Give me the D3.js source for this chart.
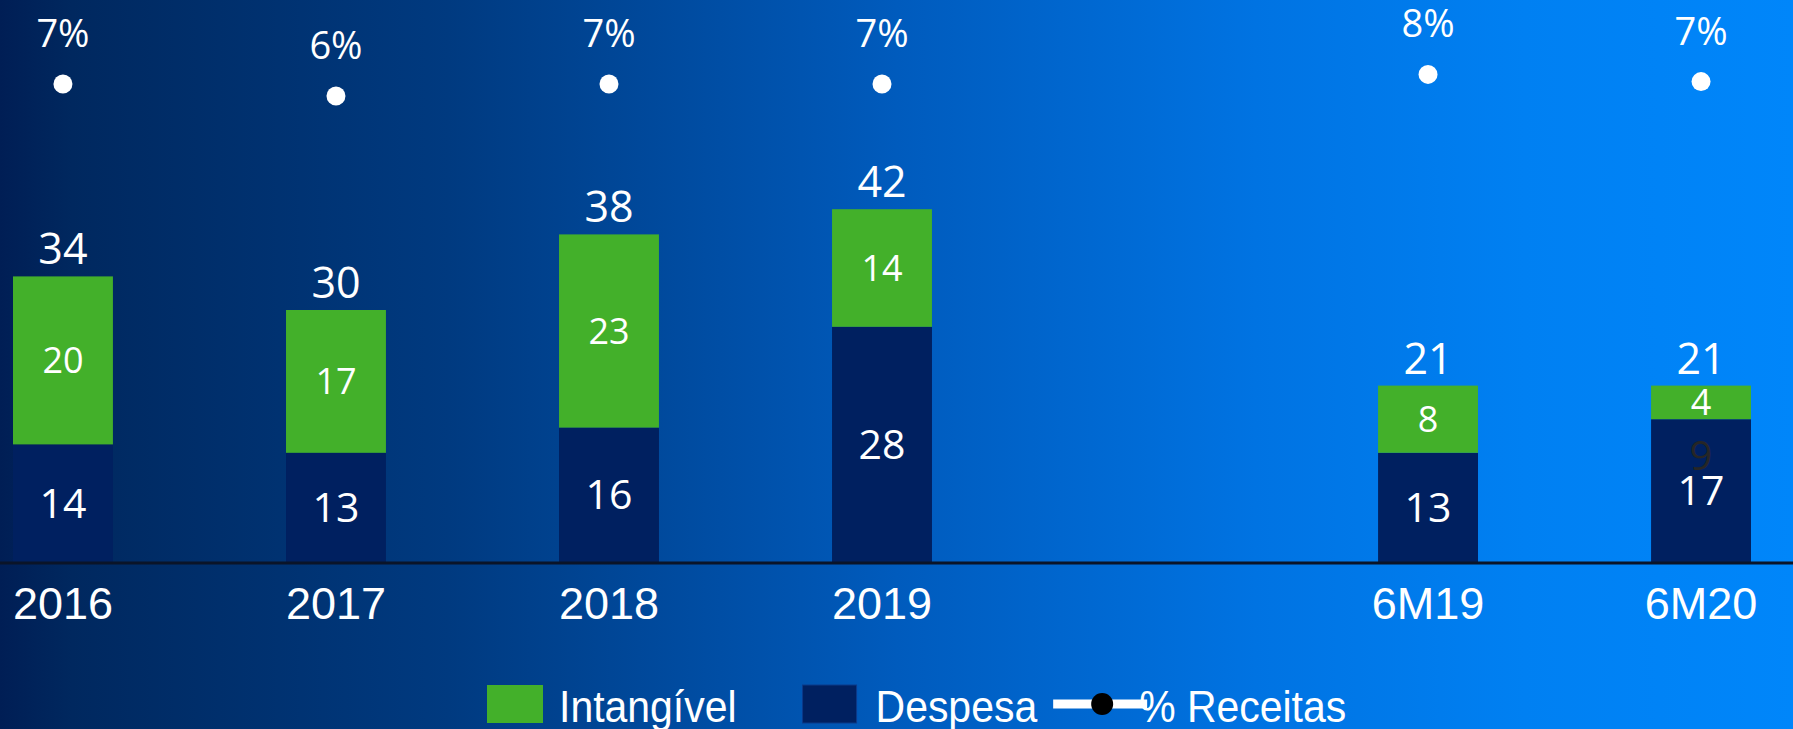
<!DOCTYPE html>
<html>
<head>
<meta charset="utf-8">
<script src="https://cdn.jsdelivr.net/npm/d3@7"></script>
<style>
html, body { margin: 0; padding: 0; overflow: hidden; background: #002058; }
</style>
</head>
<body>
<div class="chart"></div>
<script>
// data
var categories = ["2016", "2017", "2018", "2019", "6M19", "6M20"];
var despesa = [14, 13, 16, 28, 13, 17];
var intangivel = [20, 17, 23, 14, 8, 4];
var totais = [34, 30, 38, 42, 21, 21];
var pctReceitas = [0.070, 0.060, 0.070, 0.070, 0.078, 0.072];
// stray dark label sitting inside the 6M20 bar
var rotuloExtra = {categoria: "6M20", texto: "9", nivel: 12.6};

var svgWidth = 1793;
var svgHeight = 729;

// empty slot between the years and the half-years
var slots = categories.slice(0, 4).concat(["_gap"], categories.slice(4));

var table = categories.map(function(c, i) {
    return {cat: c, despesa: despesa[i], intangivel: intangivel[i], total: totais[i], pct: pctReceitas[i]};
});

var svg = d3.select(".chart")
    .append("svg")
    .attr("width", svgWidth)
    .attr("height", svgHeight);

// background gradient
var grad = svg.append("defs").append("linearGradient")
    .attr("id", "bg")
    .attr("x1", "0%").attr("x2", "100%").attr("y1", "0%").attr("y2", "0%");
[["0%", "#001e55"], ["4%", "#00285f"], ["25%", "#003a80"], ["50%", "#005bbd"],
 ["70%", "#0073e2"], ["85%", "#0080f2"], ["100%", "#0086fa"]].forEach(function(s) {
    grad.append("stop").attr("offset", s[0]).attr("stop-color", s[1]);
});
svg.append("rect").attr("width", svgWidth).attr("height", svgHeight).attr("fill", "url(#bg)");

var x = d3.scaleBand().domain(slots).range([13, 1751]).paddingInner(0.634).paddingOuter(0);
var y = d3.scaleLinear().domain([0, 50]).range([562, 142]);
var y2 = d3.scaleLinear().domain([0.06, 0.08]).range([96, 72]);

var colors = {despesa: "#002060", intangivel: "#43b02a"};
var valueFont = "'Open Sans', 'Noto Sans', sans-serif";

// stacked bars
var series = d3.stack().keys(["despesa", "intangivel"])(table);

var layers = svg.selectAll(".layer")
    .data(series)
    .enter().append("g")
    .attr("class", "layer")
    .attr("fill", function(d) { return colors[d.key]; });

layers.selectAll("rect")
    .data(function(d) { return d; })
    .enter().append("rect")
    .attr("x", function(d) { return x(d.data.cat); })
    .attr("y", function(d) { return y(d[1]); })
    .attr("width", x.bandwidth())
    .attr("height", function(d) { return y(d[0]) - y(d[1]); });

// segment labels
var segSize = {despesa: 41, intangivel: 36};
layers.each(function(s) {
    d3.select(this).selectAll("text")
        .data(s)
        .enter().append("text")
        .attr("x", function(d) { return x(d.data.cat) + x.bandwidth() / 2; })
        .attr("y", function(d) { return (y(d[0]) + y(d[1])) / 2 + segSize[s.key] * 0.357; })
        .attr("text-anchor", "middle")
        .attr("fill", "#ffffff")
        .style("font-family", valueFont)
        .style("font-size", segSize[s.key] + "px")
        .text(function(d) { return d.data[s.key]; });
});

// stray label
svg.append("text")
    .attr("x", x(rotuloExtra.categoria) + x.bandwidth() / 2)
    .attr("y", y(rotuloExtra.nivel) + 40 * 0.357)
    .attr("text-anchor", "middle")
    .attr("fill", "#262626")
    .style("font-family", valueFont)
    .style("font-size", "40px")
    .text(rotuloExtra.texto);

// totals above bars
svg.selectAll(".total")
    .data(table)
    .enter().append("text")
    .attr("class", "total")
    .attr("x", function(d) { return x(d.cat) + x.bandwidth() / 2; })
    .attr("y", function(d) { return y(d.despesa + d.intangivel) - 12; })
    .attr("text-anchor", "middle")
    .attr("fill", "#ffffff")
    .style("font-family", valueFont)
    .style("font-size", "43px")
    .text(function(d) { return d.total; });

// % receitas markers
svg.selectAll(".dot")
    .data(table)
    .enter().append("circle")
    .attr("class", "dot")
    .attr("cx", function(d) { return x(d.cat) + x.bandwidth() / 2; })
    .attr("cy", function(d) { return y2(d.pct); })
    .attr("r", 9.5)
    .attr("fill", "#ffffff");

svg.selectAll(".pct")
    .data(table)
    .enter().append("text")
    .attr("class", "pct")
    .attr("x", function(d) { return x(d.cat) + x.bandwidth() / 2; })
    .attr("y", function(d) { return y2(d.pct) - 37; })
    .attr("text-anchor", "middle")
    .attr("fill", "#ffffff")
    .style("font-family", valueFont)
    .style("font-size", "38px")
    .text(function(d) { return d3.format(".0%")(d.pct); });

// x axis
var bottomAxis = d3.axisBottom(x)
    .tickValues(categories)
    .tickSize(0)
    .tickPadding(25);

var axisG = svg.append("g")
    .attr("transform", "translate(0," + y(0) + ")")
    .call(bottomAxis);
axisG.select(".domain").remove();
axisG.selectAll("text")
    .attr("fill", "#ffffff")
    .style("font-family", "'Liberation Sans', Arial, sans-serif")
    .style("font-size", "45px");

svg.append("line")
    .attr("x1", 0).attr("x2", svgWidth)
    .attr("y1", y(0) + 1).attr("y2", y(0) + 1)
    .attr("stroke", "#0a1428")
    .attr("stroke-width", 3);

// legend
var legend = svg.append("g").attr("class", "legend");
var legFont = "'Liberation Sans', Arial, sans-serif";
var lx = 487, swTop = 685, base = 722, sx = 0.91;

function legText(xpos, label) {
    var t = legend.append("g")
        .attr("transform", "translate(" + xpos + "," + base + ") scale(" + sx + ",1)")
        .append("text")
        .attr("fill", "#ffffff")
        .style("font-family", legFont)
        .style("font-size", "45px")
        .text(label);
    return t.node().getComputedTextLength() * sx;
}

legend.append("rect").attr("x", lx).attr("y", swTop).attr("width", 56).attr("height", 38)
    .attr("fill", colors.intangivel);
lx += 56 + 16;
lx += legText(lx, "Intangível") + 66;
legend.append("rect").attr("x", lx).attr("y", swTop).attr("width", 54).attr("height", 38)
    .attr("fill", colors.despesa).attr("stroke", "#0b3a8a").attr("stroke-width", 1);
lx += 54 + 19;
lx += legText(lx, "Despesa") + 16;
legend.append("line").attr("x1", lx).attr("x2", lx + 94).attr("y1", 704).attr("y2", 704)
    .attr("stroke", "#ffffff").attr("stroke-width", 9);
legend.append("circle").attr("cx", lx + 49).attr("cy", 704).attr("r", 11).attr("fill", "#000000");
legText(lx + 86, "% Receitas");
</script>
</body>
</html>
